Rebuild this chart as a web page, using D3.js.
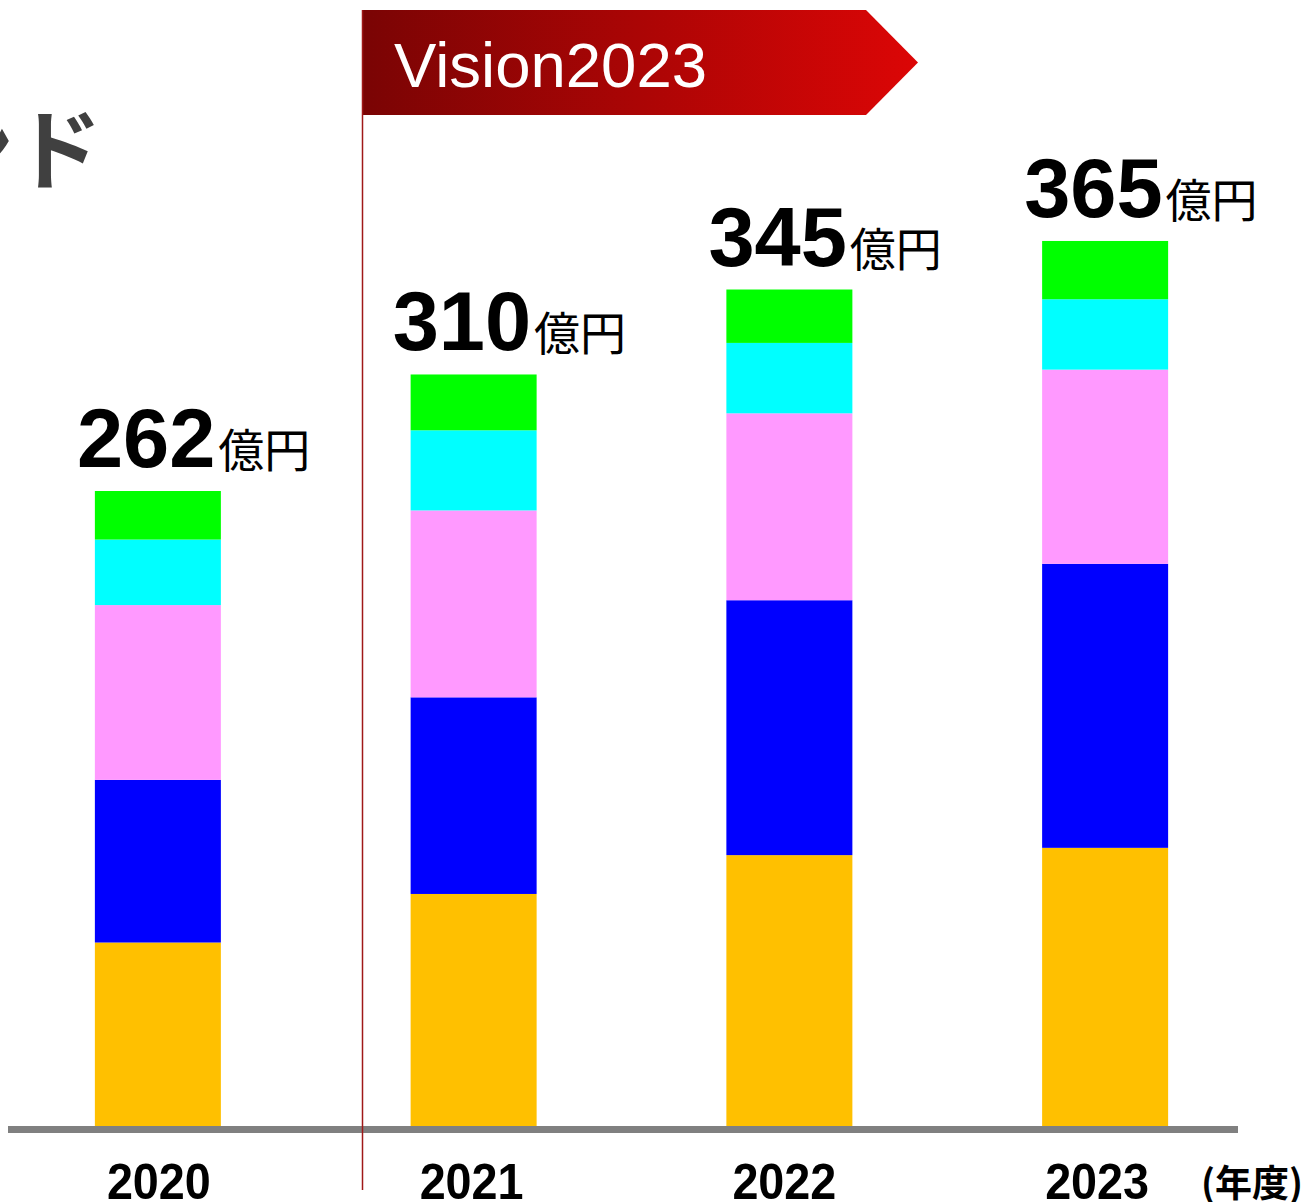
<!DOCTYPE html>
<html>
<head>
<meta charset="utf-8">
<script src="https://cdn.jsdelivr.net/npm/d3@7"></script>
<style>
  html, body { margin: 0; padding: 0; background: #fff; overflow: hidden; }
  svg { display: block; }
</style>
</head>
<body>
<svg id="chart" width="1307" height="1202"></svg>
<script>
// Fiscal years and revenue segments (億円), stacked bottom to top
const years = ["2020", "2021", "2022", "2023"];
const segYellow = [76, 96, 112, 115];
const segBlue   = [67, 81, 105, 117];
const segPink   = [72, 77, 77, 80];
const segCyan   = [27, 33, 29, 29];
const segGreen  = [20, 23, 22, 24];
const totals    = [262, 310, 345, 365];
const segmentKeys = ["yellow", "blue", "pink", "cyan", "green"];
const segmentColors = ["#ffc000", "#0000ff", "#ff99ff", "#00ffff", "#00ff00"];
const unitLabel = "億円";
const yearUnit = "(年度)";
const bannerText = "Vision2023";
const titleText = "売上高トレンド";

const rows = years.map((y, i) => ({
  year: y,
  yellow: segYellow[i], blue: segBlue[i], pink: segPink[i],
  cyan: segCyan[i], green: segGreen[i], total: totals[i]
}));

const svg = d3.select("#chart");

const x = d3.scalePoint().domain(years).range([0, 1263]).padding(0.5);
// year captions sit on a slightly tighter spacing than the bars
const xLabel = d3.scalePoint().domain(years).range([2.5, 1253.5]).padding(0.5);
const y = d3.scaleLinear().domain([0, 400]).range([1127, 156]);
const barW = 126;
const color = d3.scaleOrdinal().domain(segmentKeys).range(segmentColors);

const stack = d3.stack().keys(segmentKeys);
const series = stack(rows);

// Title (runs off the left edge)
svg.append("text")
  .attr("x", 102).attr("y", 182)
  .attr("text-anchor", "end")
  .attr("font-family", "'Noto Sans CJK JP', sans-serif")
  .attr("font-weight", 700)
  .attr("font-size", 88)
  .attr("fill", "#404040")
  .text(titleText);

// Banner arrow
const defs = svg.append("defs");
const grad = defs.append("linearGradient").attr("id", "bannerGrad")
  .attr("x1", "0%").attr("x2", "100%").attr("y1", "0%").attr("y2", "0%");
grad.append("stop").attr("offset", "0%").attr("stop-color", "#7a0404");
grad.append("stop").attr("offset", "100%").attr("stop-color", "#dc0606");

const bx0 = 362, bx1 = 866, bTip = 918, by0 = 10, by1 = 115;
svg.append("path")
  .attr("d", `M${bx0},${by0}L${bx1},${by0}L${bTip},${(by0 + by1) / 2}L${bx1},${by1}L${bx0},${by1}Z`)
  .attr("fill", "url(#bannerGrad)");
svg.append("text")
  .attr("x", 394).attr("y", 87)
  .attr("font-family", "'Liberation Sans', Arial, sans-serif")
  .attr("font-size", 63.5)
  .attr("fill", "#fff")
  .text(bannerText);

// Stacked bars
svg.append("g").selectAll("g")
  .data(series)
  .join("g")
  .attr("fill", d => color(d.key))
  .selectAll("rect")
  .data(d => d)
  .join("rect")
  .attr("x", d => x(d.data.year) - barW / 2)
  .attr("y", d => y(d[1]))
  .attr("width", barW)
  .attr("height", d => y(d[0]) - y(d[1]));

// Baseline axis
svg.append("line")
  .attr("x1", 8).attr("x2", 1238)
  .attr("y1", 1129.5).attr("y2", 1129.5)
  .attr("stroke", "#808080").attr("stroke-width", 7);

// Vision divider line
svg.append("line")
  .attr("x1", 362.5).attr("x2", 362.5)
  .attr("y1", 10).attr("y2", 1190)
  .attr("stroke", "#a01818").attr("stroke-width", 1.5);

// Year labels
svg.append("g").selectAll("text")
  .data(years)
  .join("text")
  .attr("x", d => xLabel(d) - 52)
  .attr("y", 1199)
  .attr("textLength", 104)
  .attr("lengthAdjust", "spacingAndGlyphs")
  .attr("font-family", "'Liberation Sans', Arial, sans-serif")
  .attr("font-weight", 700)
  .attr("font-size", 50)
  .attr("fill", "#000")
  .text(d => d);

svg.append("text")
  .attr("x", 1201).attr("y", 1197)
  .attr("font-family", "'Noto Sans CJK JP', sans-serif")
  .attr("font-weight", 700)
  .attr("font-size", 37)
  .attr("fill", "#000")
  .text(yearUnit);

// Total labels
const totalLabels = svg.append("g").selectAll("text")
  .data(rows)
  .join("text")
  .attr("x", d => x(d.year) - 81)
  .attr("y", d => y(d.total) - 24)
  .attr("fill", "#000");
totalLabels.append("tspan")
  .attr("font-family", "'Liberation Sans', Arial, sans-serif")
  .attr("font-weight", 700)
  .attr("font-size", 83)
  .text(d => d.total);
totalLabels.append("tspan")
  .attr("dx", 3)
  .attr("font-family", "'Noto Sans CJK JP', sans-serif")
  .attr("font-weight", 400)
  .attr("font-size", 46)
  .text(unitLabel);
</script>
</body>
</html>
